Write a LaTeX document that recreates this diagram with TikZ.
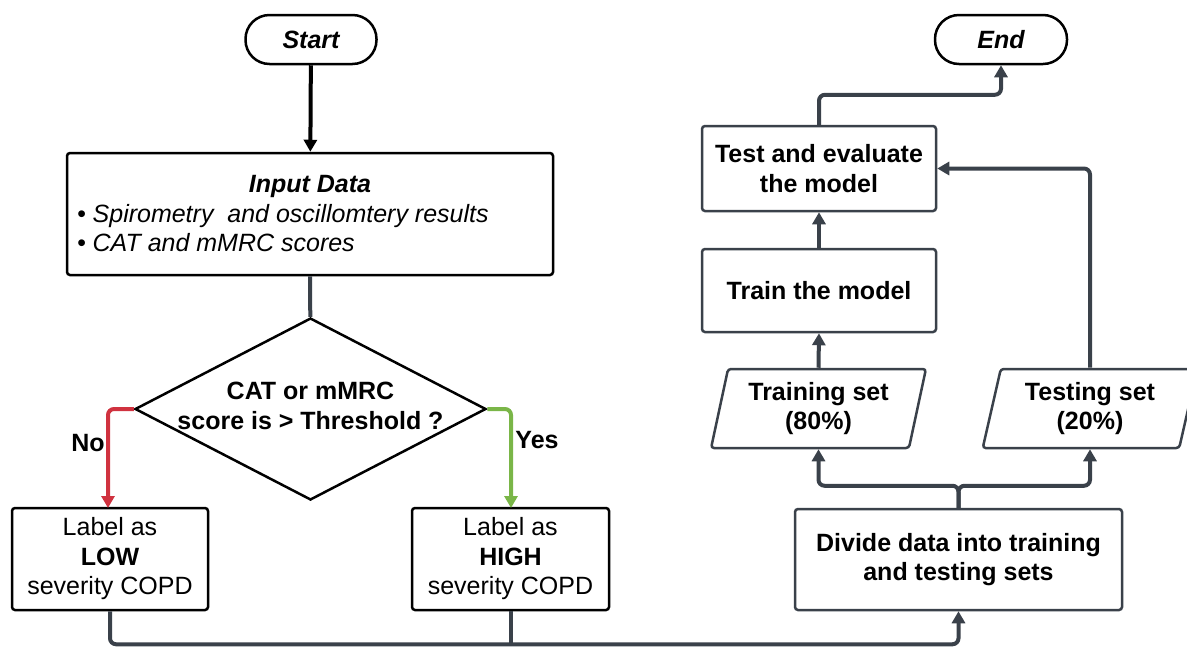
\documentclass[tikz,border=0pt]{standalone}
\usepackage{fontspec}
\setmainfont{Liberation Sans}
\usetikzlibrary{shapes.geometric,arrows.meta,calc}
\definecolor{slate}{HTML}{3A414A}
\definecolor{nored}{HTML}{D0323F}
\definecolor{yesgreen}{HTML}{7AB648}
\begin{document}
\begin{tikzpicture}[x=1pt,y=-1pt,
  every node/.style={font=\fontsize{25}{29.5}\selectfont, align=center, inner sep=0pt},
  capsule/.style={draw=black, line width=2.5pt, rounded corners=24pt, minimum width=#1, minimum height=49pt, font=\fontsize{25}{29.5}\selectfont\bfseries\itshape},
  blackbox/.style={draw=black, line width=2.5pt, rounded corners=3pt},
  graybox/.style={draw=slate, line width=2.5pt, rounded corners=3pt, font=\fontsize{25}{29.5}\selectfont\bfseries},
  para/.style={trapezium, trapezium left angle=76, trapezium right angle=104, trapezium stretches=true, draw=slate, line width=2.5pt, rounded corners=3pt, minimum width=215pt, minimum height=79pt, font=\fontsize{25}{29.5}\selectfont\bfseries},
  conn/.style={draw=slate, line width=4pt, rounded corners=6pt, -{Triangle[length=12pt,width=13pt]}},
  plainconn/.style={draw=slate, line width=4pt, rounded corners=6pt},
  lbl/.style={font=\fontsize{25}{29.5}\selectfont\bfseries}
]
\useasboundingbox (0,0) rectangle (1187,649);

% left column
\node[capsule=131pt] (start) at (311,39.5) {Start};
\node[blackbox, minimum width=486pt, minimum height=122pt] (input) at (310,214) {%
  \parbox{466pt}{\baselineskip=29.5pt
  \centering\bfseries\itshape Input Data\par
  \raggedright\mdseries • Spirometry\ \ and oscillomtery results\par
  • CAT and mMRC scores\par}};
\node[diamond, draw=black, line width=2.5pt, minimum width=351pt, minimum height=182pt] (dec) at (310.5,409) {};
\node[lbl] (dectext) at (310.5,406) {CAT or mMRC\\score is > Threshold ?};
\node[blackbox, minimum width=196pt, minimum height=102pt] (low) at (110,559) {Label as\\\textbf{LOW}\\severity COPD};
\node[blackbox, minimum width=197pt, minimum height=102pt] (high) at (510.5,559) {Label as\\\textbf{HIGH}\\severity COPD};

% right column
\node[graybox, minimum width=327pt, minimum height=101pt] (divide) at (958.5,559.5) {Divide data into training\\and testing sets};
\node[para] (trainset) at (818.5,408.5) {Training set\\(80\%)};
\node[para] (testset) at (1090,408.5) {Testing set\\(20\%)};
\node[graybox, minimum width=234pt, minimum height=83pt] (trainm) at (819,290.5) {Train the model};
\node[graybox, minimum width=234pt, minimum height=85pt] (testm) at (819,168.5) {Test and evaluate\\the model};
\node[capsule=132pt] (end) at (1001,39.5) {End};

% connectors
\draw[conn, draw=black] (start) -- (input);
\draw[plainconn] (input) -- (dec);
\draw[conn, draw=nored] (dec.west) -- (108,409) -- (108,508);
\draw[conn, draw=yesgreen] (dec.east) -- (511,409) -- (511,508);
\node[lbl] (nolbl) at (88,443) {No};
\node[lbl] (yeslbl) at (537,440) {Yes};

\draw[conn] (low.south) -- ++(0,33) -| (divide.south);
\draw[plainconn] (high.south) -- ++(0,33);
\draw[conn] (divide.north) -- ++(0,-22) -| (trainset.center |- trainset.south);
\draw[conn] (divide.north) -- ++(0,-22) -| (testset.center |- testset.south);
\draw[conn] (trainset.center |- trainset.north) -- (trainm.south);
\draw[conn] (trainm.north) -- (testm.south);
\draw[conn] (testset.center |- testset.north) |- (testm.east);
\draw[conn] (testm.north) -- ++(0,-30) -| (end.south);
\end{tikzpicture}
\end{document}
